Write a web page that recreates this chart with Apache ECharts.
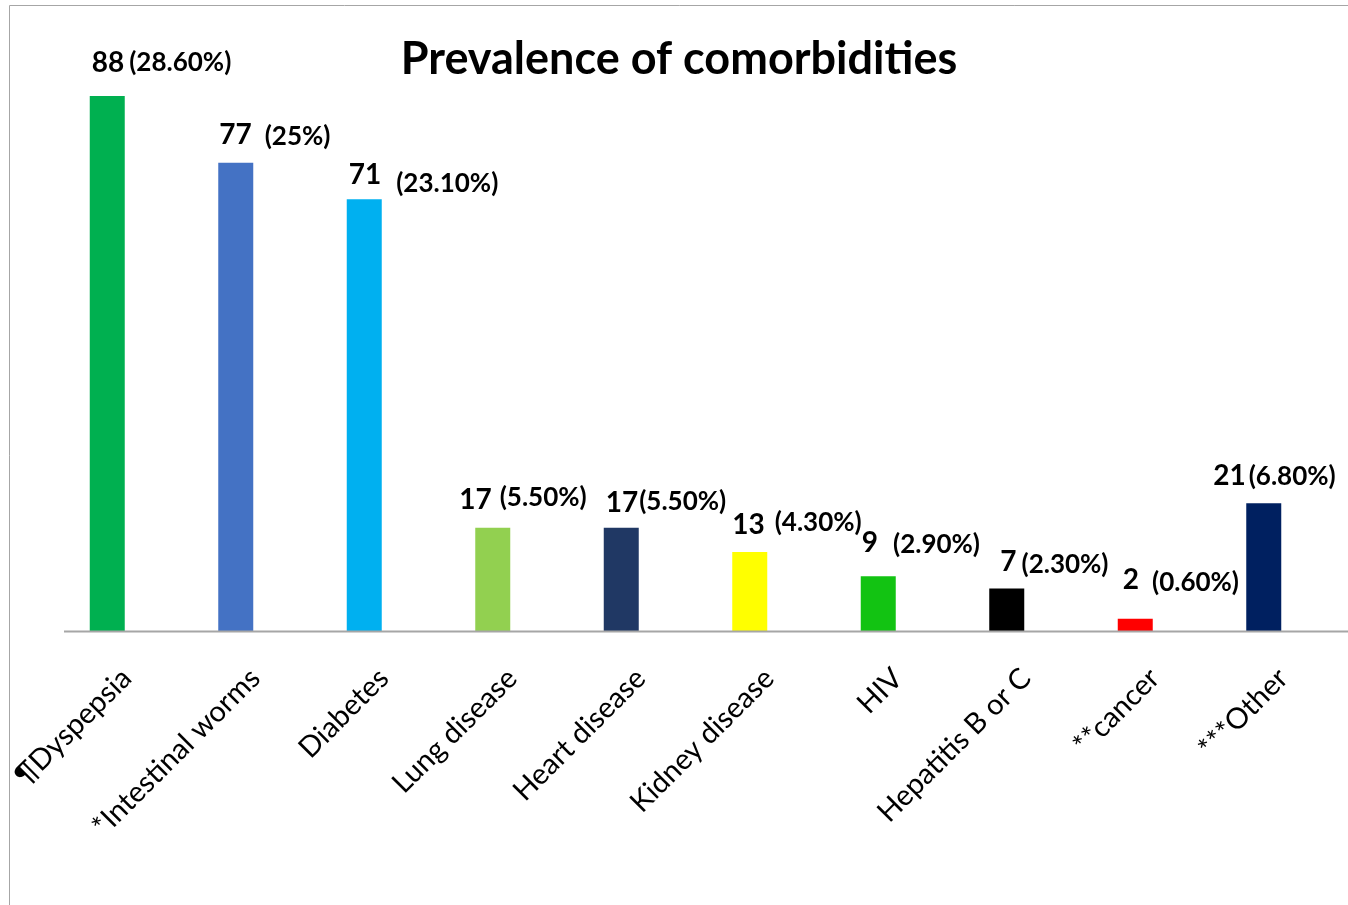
<!DOCTYPE html>
<html>
<head>
<meta charset="utf-8">
<script src="https://cdn.jsdelivr.net/npm/echarts@6/dist/echarts.min.js"></script>
<style>html,body{margin:0;padding:0;background:#fff;}#chart{width:1348px;height:905px;}</style>
</head>
<body>
<div id="chart"></div>
<script>
// ---- data ----
const categories = ['¶Dyspepsia', '*Intestinal worms', 'Diabetes', 'Lung disease', 'Heart disease',
  'Kidney disease', 'HIV', 'Hepatitis B or C', '**cancer', '***Other'];
const counts = [88, 77, 71, 17, 17, 13, 9, 7, 2, 21];
const percents = ['28.60%', '25%', '23.10%', '5.50%', '5.50%', '4.30%', '2.90%', '2.30%', '0.60%', '6.80%'];

// ---- styling (not data) ----
const barColors = ['#00B050', '#4472C4', '#00B0F0', '#92D050', '#203864', '#FFFF00', '#12C312', '#000000', '#FF0000', '#002060'];
// [number x-offset from bar left, number centre gap above bar top, gap before percent, percent vertical shift]
const labelLayout = [
  [2, 33, 5, 0], [1, 28, 13, 2], [2, 24, 15, 8], [-16, 28, 8, -2], [2, 25, 1, -1],
  [0, 27, 10, -2], [1, 33, 15, 1], [11, 26, 5, 2], [5, 39, 13, 3], [-33, 27, 3, 0]
];

const FONT = 'Lato, "Liberation Sans", sans-serif';

const seriesData = counts.map((v, i) => {
  const [dx, gap, pg, pdy] = labelLayout[i];
  const pad = pdy >= 0 ? [2 * pdy, 0, 0, pg] : [0, 0, -2 * pdy, pg];
  return {
    value: v,
    itemStyle: { color: barColors[i] },
    label: {
      show: true,
      position: [dx, -gap],
      align: 'left',
      verticalAlign: 'middle',
      formatter: '{n|' + v + '}{p|(' + percents[i] + ')}',
      rich: {
        n: { fontFamily: FONT, fontWeight: 'bold', fontSize: 28, color: '#000', verticalAlign: 'middle' },
        p: { fontFamily: FONT, fontWeight: 'bold', fontSize: 26, color: '#000', padding: pad, verticalAlign: 'middle' }
      }
    }
  };
});

const chart = echarts.init(document.getElementById('chart'), null, { renderer: 'canvas' });
chart.setOption({
  animation: false,
  backgroundColor: '#fff',
  title: {
    text: 'Prevalence of comorbidities',
    left: 674, top: 32, textAlign: 'center',
    textStyle: { fontFamily: FONT, fontWeight: 'bold', fontSize: 45, color: '#000' }
  },
  graphic: [
    { type: 'rect', shape: { x: 9.5, y: 5.5, width: 1400, height: 1000 }, style: { fill: 'none', stroke: '#a6a6a6', lineWidth: 1 }, z: -1 },
    { type: 'line', shape: { x1: 64, y1: 631.5, x2: 1348, y2: 631.5 }, style: { stroke: '#a6a6a6', lineWidth: 2 }, z: 10 }
  ],
  grid: { left: 43, right: 20, top: 23, bottom: 274, containLabel: false },
  xAxis: {
    type: 'category',
    data: categories,
    axisLine: { show: false },
    axisTick: { show: false },
    axisLabel: {
      interval: 0,
      rotate: 45,
      margin: 23,
      verticalAlign: 'top',
      padding: [13, 0, 0, 0],
      fontFamily: FONT,
      fontSize: 29,
      color: '#000'
    }
  },
  yAxis: {
    type: 'value', min: 0, max: 100,
    show: false,
    splitLine: { show: false }
  },
  series: [{
    type: 'bar',
    data: seriesData,
    barWidth: 35
  }]
});
</script>
</body>
</html>
